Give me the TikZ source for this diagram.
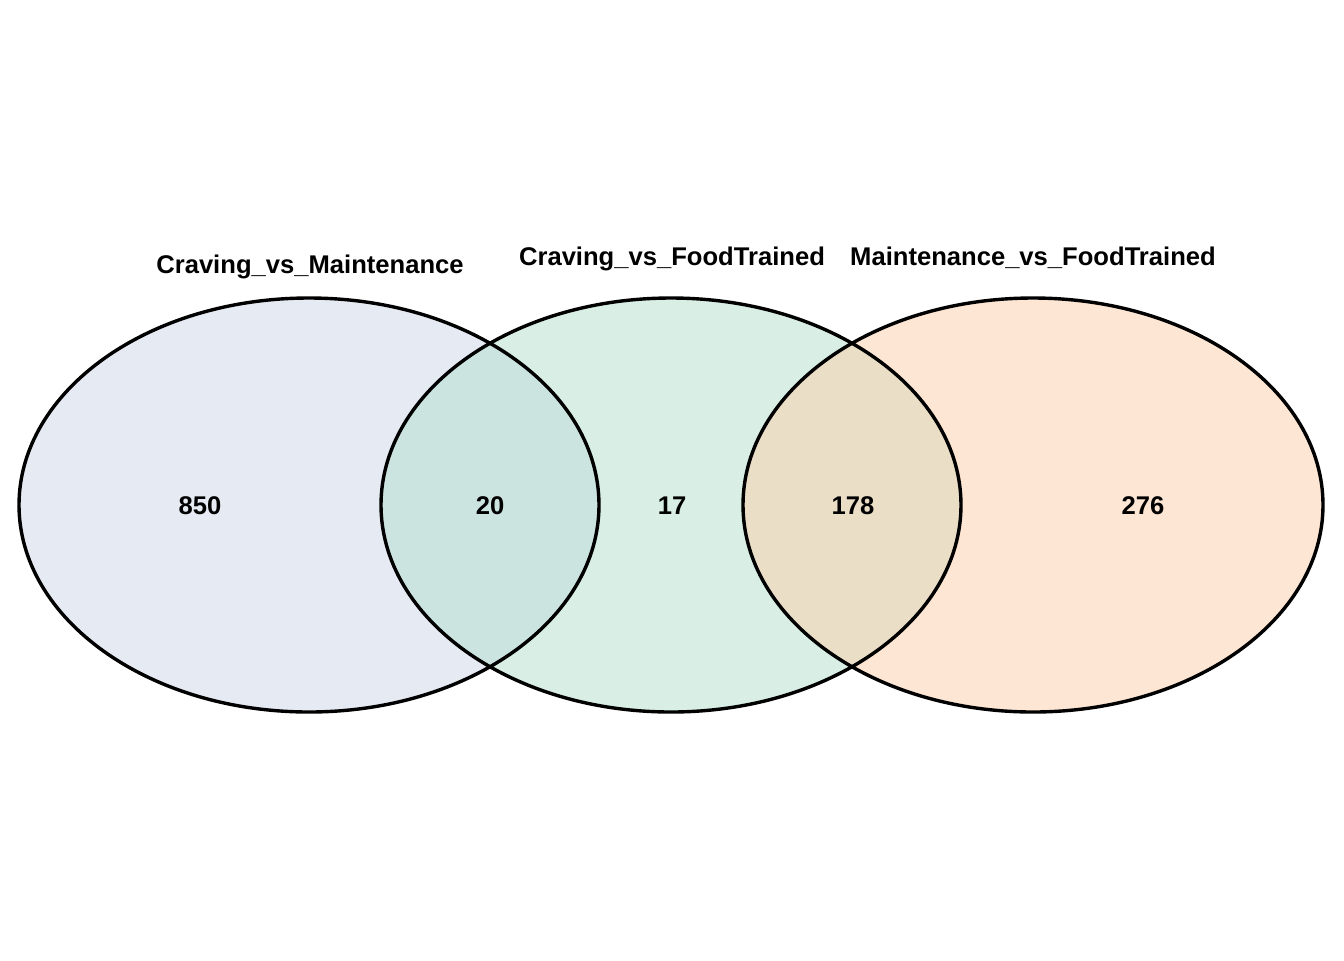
\documentclass[tikz,border=0pt]{standalone}
\usepackage{fontspec}
\setmainfont{Liberation Sans}
\definecolor{cmblue}{RGB}{205,213,229}
\definecolor{cfgreen}{RGB}{179,223,205}
\definecolor{mforange}{RGB}{251,205,169}
\tikzset{
    count/.style={font=\fontsize{12.8}{15}\selectfont\bfseries},
    title/.style={font=\fontsize{12.8}{15}\selectfont\bfseries, anchor=base},
}
\begin{document}
\begin{tikzpicture}[x=0.5pt, y=-0.5pt]
        \useasboundingbox (0, 0) rectangle (1344, 960);

        \coordinate (cm) at (309, 505);
        \coordinate (cf) at (671, 505);
        \coordinate (mf) at (1033, 505);

        % fills first, outlines on top
        \fill[cmblue,   fill opacity=0.5] (cm) ellipse [x radius=290, y radius=207];
        \fill[cfgreen,  fill opacity=0.5] (cf) ellipse [x radius=290, y radius=207];
        \fill[mforange, fill opacity=0.5] (mf) ellipse [x radius=290, y radius=207];

        \draw[line width=1.7pt] (cm) ellipse [x radius=290, y radius=207];
        \draw[line width=1.7pt] (cf) ellipse [x radius=290, y radius=207];
        \draw[line width=1.7pt] (mf) ellipse [x radius=290, y radius=207];

        \node[title] (cmtitle) at (310, 273)  {Craving\_vs\_Maintenance};
        \node[title] (cftitle) at (672, 265)  {Craving\_vs\_FoodTrained};
        \node[title] (mftitle) at (1033, 265) {Maintenance\_vs\_FoodTrained};

        \node[count] (n850) at (200, 506)  {850};
        \node[count] (n20)  at (490, 506)  {20};
        \node[count] (n17)  at (672, 506)  {17};
        \node[count] (n178) at (853, 506)  {178};
        \node[count] (n276) at (1143, 506) {276};
    \end{tikzpicture}
\end{document}
